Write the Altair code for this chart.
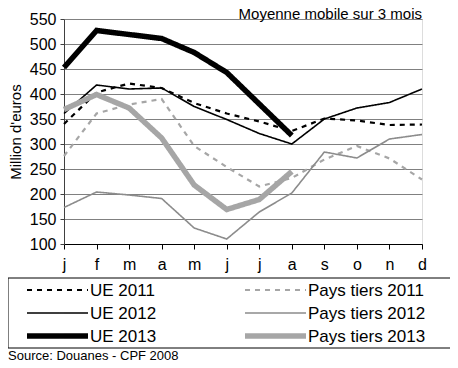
import json
import altair as alt
import pandas as pd

months = ["j", "f", "m", "a", "m", "j", "j", "a", "s", "o", "n", "d"]
series = ["UE 2011", "Pays tiers 2011", "UE 2012", "Pays tiers 2012", "UE 2013", "Pays tiers 2013"]

ue_2011 = [340, 403, 421, 412, 382, 361, 345, 326, 351, 347, 338, 339]
pt_2011 = [276, 361, 379, 390, 296, 254, 215, 232, 269, 296, 271, 229]
ue_2012 = [361, 418, 410, 412, 375, 349, 321, 300, 350, 372, 383, 410]
pt_2012 = [173, 204, 198, 191, 132, 110, 164, 202, 284, 272, 310, 319]
ue_2013 = [453, 527, 519, 511, 483, 443, 380, 317]
pt_2013 = [369, 399, 372, 312, 218, 169, 189, 245]

values = [ue_2011, pt_2011, ue_2012, pt_2012, ue_2013, pt_2013]

colors = ["#000000", "#a6a6a6", "#000000", "#8c8c8c", "#000000", "#a6a6a6"]
dashes = [[5, 5], [5, 5], [1, 0], [1, 0], [1, 0], [1, 0]]
widths = [2.2, 2.2, 1.6, 1.6, 5.5, 5.5]
draw_order = [0, 1, 2, 3, 5, 4]

rows = []
for s, vals, o in zip(series, values, draw_order):
    for i, v in enumerate(vals):
        rows.append({"serie": s, "mois": i + 1, "valeur": v, "ordre": o})
df = pd.DataFrame(rows)

# legend layout (pixels relative to the plot area's top-left corner)
LEG_LEFT, LEG_TOP, LEG_RIGHT, LEG_BOTTOM = -56, 259, 388, 329
COL_X = [-37, 181]
SYM_LEN = 61
ROW_Y = [271, 294, 317]
leg_rows = []
for i, s in enumerate(series):
    c, r = i % 2, i // 2
    leg_rows.append({"serie": s, "x1": COL_X[c], "x2": COL_X[c] + SYM_LEN,
                     "xt": COL_X[c] + SYM_LEN + 2, "y": ROW_Y[r]})
leg_df = pd.DataFrame(leg_rows)

FONT = "Liberation Sans"
label_expr = json.dumps(months) + "[datum.value - 1]"

color_enc = alt.Color("serie:N", scale=alt.Scale(domain=series, range=colors), legend=None)
dash_enc = alt.StrokeDash("serie:N", scale=alt.Scale(domain=series, range=dashes), legend=None)
width_enc = alt.StrokeWidth("serie:N", scale=alt.Scale(type="ordinal", domain=series, range=widths), legend=None)

lines = alt.Chart(df).mark_line(strokeCap="butt", strokeJoin="miter").encode(
    x=alt.X("mois:Q", scale=alt.Scale(domain=[1, 12], nice=False, zero=False),
            axis=alt.Axis(values=list(range(1, 13)), labelExpr=label_expr, title=None,
                          grid=False, domainColor="#000000", tickColor="#000000",
                          tickSize=5, labelPadding=7, labelFontSize=16,
                          labelFont=FONT, labelColor="#000000", labelFlush=False)),
    y=alt.Y("valeur:Q", scale=alt.Scale(domain=[100, 550], nice=False, zero=False),
            axis=alt.Axis(values=list(range(100, 551, 50)), title="Million d'euros",
                          grid=True, gridColor="#808080", gridWidth=1,
                          domainColor="#404040", tickColor="#404040", tickSize=4,
                          labelPadding=4, labelFontSize=16, labelFont=FONT,
                          labelColor="#000000", titleFont=FONT, titleFontSize=15,
                          titleFontWeight="normal", titleColor="#000000",
                          titlePadding=6)),
    color=color_enc,
    strokeDash=dash_enc,
    strokeWidth=width_enc,
    order=alt.Order("ordre:Q"),
)

box = alt.Chart(alt.Data(values=[{}])).mark_rect(fill="white", fillOpacity=0, stroke="#000000", strokeWidth=1).encode(
    x=alt.value(LEG_LEFT), x2=alt.value(LEG_RIGHT), y=alt.value(LEG_TOP), y2=alt.value(LEG_BOTTOM)
)

leg_sym = alt.Chart(leg_df).mark_rule(strokeCap="butt").encode(
    x=alt.X("x1:Q", scale=None, axis=None),
    x2="x2:Q",
    y=alt.Y("y:Q", scale=None, axis=None),
    color=color_enc,
    strokeDash=dash_enc,
    strokeWidth=width_enc,
)

leg_txt = alt.Chart(leg_df).mark_text(align="left", baseline="middle", font=FONT,
                                      fontSize=17, color="#000000", dy=1).encode(
    x=alt.X("xt:Q", scale=None, axis=None),
    y=alt.Y("y:Q", scale=None, axis=None),
    text="serie:N",
)

source = alt.Chart(alt.Data(values=[{"t": "Source: Douanes - CPF 2008"}])).mark_text(
    align="left", baseline="middle", font=FONT, fontSize=13, color="#000000"
).encode(x=alt.value(-56), y=alt.value(337), text="t:N")

chart = alt.layer(lines, box, leg_sym, leg_txt, source).resolve_scale(
    x="independent", y="independent"
).properties(
    width=358, height=225,
    padding={"left": 56, "top": 11, "right": 28, "bottom": 122},
    autosize=alt.AutoSizeParams(type="none"),
    title=alt.Title("Moyenne mobile sur 3 mois", anchor="end", fontSize=15,
                    fontWeight="normal", font=FONT, color="#000000", offset=-11,
                    frame="group"),
).configure_view(stroke="#808080", strokeWidth=1).configure(background="white")

chart.save("out.html", embed_options={"renderer": "svg", "actions": False})
